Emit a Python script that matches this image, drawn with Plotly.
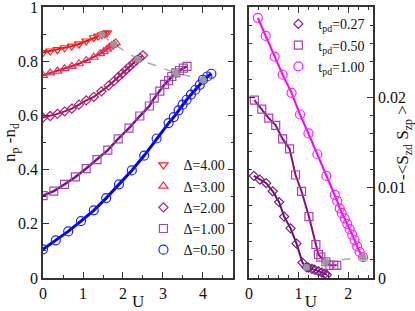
import plotly.graph_objects as go

# ---------------- data (left panel: n_p - n_d vs U) ----------------
u_d050 = [0, 0.32, 0.63, 0.95, 1.27, 1.58, 1.9, 2.22, 2.53, 2.84, 3.14, 3.27, 3.39, 3.49, 3.59, 3.7, 3.81, 3.92, 4.0, 4.11, 4.21]
n_d050 = [0.106, 0.139, 0.172, 0.21, 0.25, 0.295, 0.346, 0.397, 0.452, 0.515, 0.572, 0.594, 0.619, 0.64, 0.658, 0.677, 0.695, 0.713, 0.732, 0.744, 0.754]

u_d100 = [0, 0.27, 0.54, 0.81, 1.08, 1.35, 1.62, 1.88, 2.15, 2.42, 2.66, 2.78, 2.92, 3.04, 3.14, 3.22, 3.32, 3.41, 3.51, 3.6]
n_d100 = [0.304, 0.321, 0.346, 0.373, 0.404, 0.437, 0.472, 0.514, 0.553, 0.598, 0.635, 0.664, 0.69, 0.715, 0.729, 0.744, 0.757, 0.766, 0.775, 0.781]

u_d200 = [0, 0.18, 0.36, 0.54, 0.72, 0.9, 1.08, 1.27, 1.46, 1.64, 1.78, 1.88, 1.98, 2.07, 2.16, 2.25, 2.33, 2.42, 2.5]
n_d200 = [0.592, 0.598, 0.606, 0.615, 0.625, 0.64, 0.656, 0.669, 0.689, 0.71, 0.728, 0.742, 0.755, 0.768, 0.78, 0.792, 0.803, 0.813, 0.822]

u_d300 = [0, 0.18, 0.36, 0.54, 0.72, 0.9, 1.08, 1.27, 1.43, 1.52, 1.6, 1.66, 1.72, 1.77, 1.82]
n_d300 = [0.748, 0.757, 0.764, 0.773, 0.781, 0.791, 0.803, 0.815, 0.828, 0.836, 0.845, 0.852, 0.858, 0.863, 0.868]

u_d400 = [0, 0.18, 0.36, 0.54, 0.72, 0.9, 1.08, 1.27, 1.38, 1.47, 1.54, 1.6]
n_d400 = [0.832, 0.838, 0.843, 0.85, 0.856, 0.864, 0.875, 0.887, 0.893, 0.898, 0.902, 0.905]

u_gray_left = [1.47, 1.77, 2.37, 3.32, 4.0]
n_gray_left = [0.898, 0.863, 0.808, 0.757, 0.732]

# ---------------- data (right panel: -<S_zd S_zp> vs U) ----------------
u_t100 = [0.18, 0.34, 0.52, 0.68, 0.86, 1.03, 1.2, 1.38, 1.56, 1.73, 1.78, 1.83, 1.87, 1.93, 1.98, 2.03, 2.08, 2.13, 2.18, 2.23, 2.3]
s_t100 = [0.0288, 0.0268, 0.0245, 0.0225, 0.0205, 0.0181, 0.016, 0.0137, 0.0113, 0.0092, 0.0085, 0.0077, 0.0072, 0.0066, 0.006, 0.0054, 0.0048, 0.0042, 0.0035, 0.0029, 0.0023]

u_t050 = [0.11, 0.26, 0.4, 0.54, 0.68, 0.82, 0.94, 1.06, 1.21, 1.35, 1.4, 1.45, 1.55, 1.63, 1.71, 1.77]
s_t050 = [0.0197, 0.0187, 0.0177, 0.0169, 0.0154, 0.0143, 0.0114, 0.0096, 0.0068, 0.0037, 0.0026, 0.0023, 0.0018, 0.0014, 0.0014, 0.0014]

u_t027 = [0.1, 0.22, 0.35, 0.48, 0.61, 0.71, 0.84, 0.96, 1.08, 1.16, 1.2, 1.27, 1.33, 1.4, 1.47, 1.53, 1.57]
s_t027 = [0.0113, 0.0109, 0.0105, 0.0096, 0.0084, 0.0068, 0.0055, 0.0038, 0.0017, 0.0012, 0.00114, 0.001, 0.0009, 0.00076, 0.0006, 0.00046, 0.00035]

u_gray_right = [1.16, 1.55, 2.3]
s_gray_right = [0.0012, 0.0018, 0.0023]

left_labels = ["Δ=4.00", "Δ=3.00", "Δ=2.00", "Δ=1.00", "Δ=0.50"]
right_labels = ["t<sub>pd</sub>=0.27", "t<sub>pd</sub>=0.50", "t<sub>pd</sub>=1.00"]
left_yticks = [0, 0.2, 0.4, 0.6, 0.8, 1.0]
left_yticktext = ["0", "0.2", "0.4", "0.6", "0.8", "1"]
right_yticks = [0, 0.01, 0.02]
right_yticktext = ["0", "0.01", "0.02"]

FONT = "Liberation Serif"
W, H = 415, 311
ML, MR, MT, MB = 42.5, 42.3, 6.7, 33.3
PW = W - ML - MR
PH = H - MT - MB

fig = go.Figure()

left_series = [
    (u_d400, n_d400, left_labels[0], "#ff0000", "#ff2020", "triangle-down-open", 8, 2),
    (u_d300, n_d300, left_labels[1], "#d8143c", "#e8305a", "triangle-up-open", 8, 2),
    (u_d200, n_d200, left_labels[2], "#a0105e", "#b02070", "diamond-open", 7, 2),
    (u_d100, n_d100, left_labels[3], "#7a108a", "#a04ab0", "square-open", 8, 2.5),
    (u_d050, n_d050, left_labels[4], "#0000ff", "#2020ff", "circle-open", 9, 3),
]
for u, n, lab, lc, mc, sym, ms, lw in left_series:
    fig.add_trace(go.Scatter(x=u, y=n, mode="lines", line=dict(color=lc, width=lw),
                             showlegend=False, xaxis="x", yaxis="y", hoverinfo="skip"))
fig.add_trace(go.Scatter(x=u_gray_left, y=n_gray_left, mode="lines",
                         line=dict(color="#aaaaaa", width=1.5, dash="dash"),
                         showlegend=False, xaxis="x", yaxis="y"))
for u, n, lab, lc, mc, sym, ms, lw in left_series:
    fig.add_trace(go.Scatter(x=u, y=n, mode="markers", name=lab,
                             marker=dict(symbol=sym, size=ms, color=mc, line=dict(width=1.2, color=mc)),
                             legend="legend", xaxis="x", yaxis="y"))
fig.add_trace(go.Scatter(x=u_gray_left, y=n_gray_left, mode="markers",
                         marker=dict(color="#999999", size=7),
                         showlegend=False, xaxis="x", yaxis="y"))

right_series = [
    (u_t027, s_t027, right_labels[0], "#6a1070", "#7a1a80", "diamond-open", 7, 2),
    (u_t050, s_t050, right_labels[1], "#8a0a8a", "#b040b0", "square-open", 8, 2),
    (u_t100, s_t100, right_labels[2], "#ff00ff", "#ff20ff", "circle-open", 9, 2),
]
for u, s, lab, lc, mc, sym, ms, lw in right_series:
    fig.add_trace(go.Scatter(x=u, y=s, mode="lines", line=dict(color=lc, width=lw),
                             showlegend=False, xaxis="x2", yaxis="y2", hoverinfo="skip"))
fig.add_trace(go.Scatter(x=u_gray_right, y=s_gray_right, mode="lines",
                         line=dict(color="#aaaaaa", width=1.5, dash="dash"),
                         showlegend=False, xaxis="x2", yaxis="y2"))
for u, s, lab, lc, mc, sym, ms, lw in right_series:
    fig.add_trace(go.Scatter(x=u, y=s, mode="markers", name=lab,
                             marker=dict(symbol=sym, size=ms, color=mc, line=dict(width=1.2, color=mc)),
                             legend="legend2", xaxis="x2", yaxis="y2"))
fig.add_trace(go.Scatter(x=u_gray_right, y=s_gray_right, mode="markers",
                         marker=dict(color="#999999", size=7),
                         showlegend=False, xaxis="x2", yaxis="y2"))

axis_common = dict(showline=True, linecolor="#333333", linewidth=1.5, mirror="ticks",
                   ticks="inside", ticklen=6, tickwidth=1.2, tickcolor="#333333",
                   showgrid=False, zeroline=False, automargin=False,
                   ticklabeloverflow="allow",
                   tickfont=dict(family=FONT, size=16, color="#111111"),
                   title_font=dict(family=FONT, size=17, color="#111111"))
minor_common = dict(ticks="inside", ticklen=3, tickcolor="#333333", tickwidth=1.2)


def px_x(px):
    return (px - ML) / PW


def px_y(py):
    return 1 - (py - MT) / PH


fig.update_layout(
    width=W, height=H,
    margin=dict(l=ML, r=MR, t=MT, b=MB, autoexpand=False),
    paper_bgcolor="white", plot_bgcolor="white",
    font=dict(family=FONT, color="#111111"),
    xaxis=dict(domain=[0, px_x(233)], range=[0, 4.76], dtick=1,
               minor=dict(dtick=0.5, **minor_common),
               title=dict(text="U", standoff=2), anchor="y", **axis_common),
    yaxis=dict(domain=[0, 1], range=[0, 1.0005], tickvals=left_yticks, ticktext=left_yticktext,
               minor=dict(dtick=0.1, **minor_common),
               title=dict(text="n<sub>p</sub> -n<sub>d</sub>", standoff=4), anchor="x", **axis_common),
    xaxis2=dict(domain=[px_x(248.5), 1], range=[0, 2.5], dtick=1,
                minor=dict(dtick=0.2, **minor_common),
                title=dict(text="U", standoff=2), anchor="y2", **axis_common),
    yaxis2=dict(domain=[0, 1], range=[0, 0.03], tickvals=right_yticks, ticktext=right_yticktext,
                minor=dict(dtick=0.002, **minor_common),
                side="right", title=dict(text="-&lt;S<sub>zd</sub> S<sub>zp</sub> &gt;", standoff=7),
                anchor="x2", **axis_common),
    legend=dict(x=px_x(143), y=px_y(149), xanchor="left", yanchor="top",
                bgcolor="rgba(0,0,0,0)", borderwidth=0, itemwidth=30,
                font=dict(family=FONT, size=14, color="#111111"),
                tracegroupgap=0),
    legend2=dict(x=px_x(278), y=px_y(8), xanchor="left", yanchor="top",
                 bgcolor="rgba(0,0,0,0)", borderwidth=0, itemwidth=30,
                 font=dict(family=FONT, size=14, color="#111111"),
                 tracegroupgap=0),
)

fig.write_html("out.html", config={"displayModeBar": False},
               post_script="document.body.style.margin='0';document.body.style.padding='0';")
